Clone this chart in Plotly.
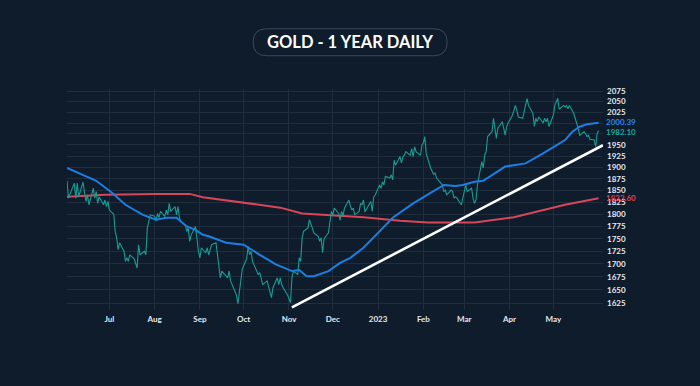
import math
import pandas as pd
import plotly.graph_objects as go

# ---- data ----
price_jun22 = [1871, 1834, 1858, 1866, 1834, 1866, 1837, 1868, 1845, 1827, 1841, 1820, 1855, 1834, 1848, 1823, 1837, 1820, 1830, 1816, 1827]
price_jul22 = [1809, 1800, 1765, 1752, 1728, 1742, 1725, 1705, 1712, 1705, 1718, 1710, 1699, 1692, 1738, 1718, 1725, 1718, 1772, 1785, 1799]
price_aug22 = [1796, 1786, 1802, 1793, 1806, 1796, 1809, 1799, 1823, 1806, 1816, 1799, 1816, 1793, 1785, 1778, 1765, 1772, 1745, 1758, 1775, 1742, 1725]
price_sep22 = [1712, 1732, 1722, 1732, 1718, 1728, 1738, 1742, 1718, 1692, 1673, 1686, 1676, 1673, 1686, 1667, 1660, 1640, 1624, 1647, 1667, 1690]
price_oct22 = [1710, 1735, 1718, 1725, 1705, 1686, 1679, 1683, 1673, 1660, 1667, 1654, 1647, 1635, 1654, 1673, 1660, 1673, 1660, 1654, 1640]
price_nov22 = [1632, 1626, 1673, 1686, 1679, 1712, 1705, 1752, 1765, 1772, 1789, 1778, 1772, 1762, 1755, 1745, 1752, 1722, 1750, 1762, 1785, 1806]
price_dec22 = [1799, 1813, 1802, 1788, 1806, 1798, 1813, 1830, 1818, 1809, 1813, 1799, 1806, 1823, 1820, 1830, 1805, 1820, 1827, 1806, 1837, 1840]
price_jan23 = [1862, 1855, 1869, 1862, 1881, 1877, 1884, 1873, 1916, 1905, 1924, 1910, 1924, 1927, 1935, 1927, 1942, 1924, 1946, 1935, 1927, 1949]
price_feb23 = [1955, 1969, 1930, 1899, 1892, 1885, 1888, 1877, 1866, 1862, 1848, 1851, 1841, 1851, 1848, 1834, 1837, 1834, 1820, 1834]
price_mar23 = [1850, 1862, 1848, 1855, 1834, 1823, 1830, 1862, 1913, 1899, 1927, 1935, 1969, 1980, 2011, 1988, 1965, 1988, 2003, 1988, 1972, 1991, 2000]
price_apr23 = [2018, 2033, 2041, 2030, 2014, 2011, 2026, 2049, 2057, 2041, 2022, 1992, 2011, 2003, 2014, 2000, 2011, 2003, 2011, 1992]
price_may23 = [2018, 2041, 2049, 2058, 2032, 2041, 2037, 2041, 2033, 2041, 2022, 2011, 2003, 1988, 1972, 1980, 1976, 1969, 1972, 1963, 1961, 1946, 1976]
price_jun23 = [1982.10]

ma_fast_dates = ["2022-06-02", "2022-06-22", "2022-07-03", "2022-07-12", "2022-07-24", "2022-08-02",
                 "2022-08-09", "2022-08-16", "2022-08-23", "2022-08-29", "2022-09-03", "2022-09-07",
                 "2022-09-19", "2022-10-01", "2022-10-12", "2022-10-23", "2022-11-03", "2022-11-08",
                 "2022-11-13", "2022-11-18", "2022-11-28", "2022-12-06", "2022-12-13", "2022-12-22",
                 "2023-01-02", "2023-01-11", "2023-01-25", "2023-02-04", "2023-02-15", "2023-02-23",
                 "2023-02-28", "2023-03-08", "2023-03-14", "2023-03-29", "2023-04-12", "2023-04-24",
                 "2023-05-09", "2023-05-14", "2023-05-19", "2023-05-24", "2023-06-01"]
ma_fast_vals = [1899, 1871, 1845, 1820, 1799, 1789, 1793, 1793, 1775, 1768, 1758, 1755, 1742, 1738,
                1718, 1699, 1686, 1688, 1676, 1676, 1686, 1702, 1712, 1732, 1765, 1793, 1823, 1841,
                1862, 1860, 1862, 1869, 1871, 1902, 1909, 1931, 1961, 1980, 1991.5, 1997, 2000.39]

ma_slow_dates = ["2022-06-02", "2022-06-28", "2022-08-02", "2022-08-25", "2022-09-03", "2022-10-01",
                 "2022-10-26", "2022-11-10", "2022-11-30", "2022-12-22", "2023-01-16", "2023-02-04",
                 "2023-03-08", "2023-04-04", "2023-05-09", "2023-06-01"]
ma_slow_vals = [1837, 1841, 1843, 1843, 1836, 1825, 1814, 1802, 1798, 1794, 1787, 1783, 1783, 1794, 1820, 1833.60]

trend_dates = ["2022-11-03", "2023-06-04"]
trend_vals = [1617, 1949.5]

month_ticks = ["2022-07-01", "2022-08-01", "2022-09-01", "2022-10-01", "2022-11-01", "2022-12-01",
               "2023-01-01", "2023-02-01", "2023-03-01", "2023-04-01", "2023-05-01"]
month_labels = ["Jul", "Aug", "Sep", "Oct", "Nov", "Dec", "2023", "Feb", "Mar", "Apr", "May"]

y_ticks = [2075, 2050, 2025, 2000, 1975, 1950, 1925, 1900, 1875, 1850, 1825, 1800,
           1775, 1750, 1725, 1700, 1675, 1650, 1625]
y_labels = ["2075", "2050", "2025", "", "", "1950", "1925", "1900", "1875", "1850", "1825", "1800",
            "1775", "1750", "1725", "1700", "1675", "1650", "1625"]

last_labels = [("2000.39", 2000.39, "#2f86e6", 0.5), ("1982.10", 1982.10, "#1fa99f", -1.5),
               ("1833.60", 1833.60, "#d8465a", 0)]

# ---- build ----
prices = (price_jun22 + price_jul22 + price_aug22 + price_sep22 + price_oct22 + price_nov22 +
          price_dec22 + price_jan23 + price_feb23 + price_mar23 + price_apr23 + price_may23 + price_jun23)
dates = pd.bdate_range("2022-06-02", "2023-06-01")
n = min(len(dates), len(prices))
dates = dates[:n]
prices = prices[:n]

BG = "#0f1c2b"
GRID = "#1f2d3c"
TXT = "#e4e9ef"
FONT = "Lato"

fig = go.Figure()
fig.add_trace(go.Scatter(x=ma_slow_dates, y=ma_slow_vals, mode="lines",
                         line=dict(color="#d8465a", width=2), hoverinfo="skip"))
fig.add_trace(go.Scatter(x=list(dates), y=prices, mode="lines",
                         line=dict(color="#1a9c93", width=1.1), hoverinfo="skip"))
fig.add_trace(go.Scatter(x=ma_fast_dates, y=ma_fast_vals, mode="lines",
                         line=dict(color="#1b7fe3", width=2), hoverinfo="skip"))
fig.add_trace(go.Scatter(x=trend_dates, y=trend_vals, mode="lines",
                         line=dict(color="#ffffff", width=2.6), hoverinfo="skip"))

tick_font = dict(family=FONT, size=8, color=TXT, weight="bold")

fig.update_xaxes(range=["2022-06-02", "2023-06-04"], tickmode="array", tickvals=month_ticks,
                 ticktext=month_labels, showgrid=True, gridcolor=GRID, gridwidth=1,
                 zeroline=False, showline=False, tickfont=tick_font, ticks="", ticklabelstandoff=3)
fig.update_yaxes(type="log", range=[math.log10(1612), math.log10(2080)], side="right",
                 tickmode="array", tickvals=y_ticks, ticktext=y_labels, showgrid=True,
                 gridcolor=GRID, gridwidth=1, zeroline=False, showline=False, tickfont=tick_font,
                 ticks="", ticklabelstandoff=3)

annotations = []
for text, val, col, dy in last_labels:
    annotations.append(dict(text=text, xref="paper", yref="y", x=1, y=math.log10(val),
                            xanchor="left", yanchor="middle", showarrow=False, xshift=1, yshift=dy,
                            font=dict(family=FONT, size=8, color=col, weight="bold")))

# title pill
L, R, T, B = 66.7, 603.0, 88.6, 310.3
W, H = R - L, B - T
cx = (350 - L) / W
cy = (B - 41.7) / H
annotations.append(dict(text="GOLD - 1 YEAR DAILY", xref="paper", yref="paper", x=cx, y=cy,
                        xanchor="center", yanchor="middle", showarrow=False,
                        font=dict(family=FONT, size=16.5, color="#ffffff", weight="bold")))
hw, hh = 97, 13.5
path = (f"M {-hw+hh},{-hh} L {hw-hh},{-hh} Q {hw},{-hh} {hw},0 Q {hw},{hh} {hw-hh},{hh} "
        f"L {-hw+hh},{hh} Q {-hw},{hh} {-hw},0 Q {-hw},{-hh} {-hw+hh},{-hh} Z")
fig.add_shape(type="path", xref="paper", yref="paper", xsizemode="pixel", ysizemode="pixel",
              xanchor=cx, yanchor=cy, path=path, line=dict(color="#3b4a5b", width=1),
              fillcolor="rgba(0,0,0,0)", layer="above")

fig.update_layout(width=700, height=386, paper_bgcolor=BG, plot_bgcolor=BG, showlegend=False,
                  margin=dict(l=L, r=700 - R, t=T, b=386 - B), annotations=annotations)

fig.write_html("out.html", config={"displayModeBar": False},
               post_script="document.body.style.margin='0';document.body.style.background='%s';" % BG)
